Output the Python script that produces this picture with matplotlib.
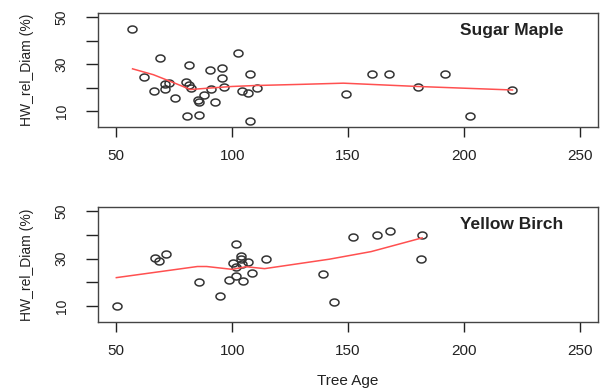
import numpy as np
import matplotlib.pyplot as plt
from matplotlib.path import Path

plt.rcParams['font.family'] = ['Liberation Sans', 'DejaVu Sans']

# Sugar Maple: tree age vs heartwood relative diameter (%)
sm_age = [56.8, 69, 81.3, 62.1, 70.9, 72.6, 71.2, 66.2, 75.4, 80.2, 81.2, 82.3,
          80.4, 85.5, 85.2, 85.6, 87.7, 90.6, 91, 92.6, 95.6, 95.6, 96.4, 102.5,
          107.6, 104.4, 106.8, 110.9, 107.9, 149.1, 160.5, 167.5, 180.4, 191.7,
          202.8, 221]
sm_hw = [44.8, 32.6, 29.7, 24.4, 21.4, 21.9, 19.6, 18.7, 15.6, 22.6, 21.2, 19.9,
         8.0, 8.4, 14.6, 14.0, 16.7, 27.4, 19.6, 14.1, 28.2, 24.2, 20.1, 34.8,
         25.9, 18.5, 17.6, 19.7, 5.9, 17.2, 25.7, 25.9, 20.2, 25.6, 7.8, 19.0]
sm_fit_age = [57, 66, 75, 82, 90, 100, 110, 130, 148, 180, 221]
sm_fit_hw = [28.0, 25.5, 22.0, 19.2, 19.8, 20.5, 20.9, 21.4, 21.9, 20.5, 19.0]

# Yellow Birch
yb_age = [50.3, 66.9, 68.3, 71.5, 85.5, 94.6, 98.5, 101.8, 100.4, 101.8, 103.7,
          103.7, 104.2, 106.8, 108.6, 104.5, 101.8, 114.8, 139.3, 144.1, 152.3,
          162.4, 168.2, 181.9, 181.6]
yb_hw = [10.2, 30.2, 29.2, 31.8, 20.3, 14.1, 21.1, 36.1, 28.3, 22.9, 31.1,
         29.7, 27.6, 28.8, 24.1, 20.5, 26.4, 29.7, 23.6, 11.7, 39.3, 39.8, 41.6,
         40.1, 29.7]
yb_fit_age = [50, 85, 89, 100, 106, 114, 142, 160, 182]
yb_fit_hw = [22.0, 26.7, 26.7, 25.5, 26.6, 25.8, 29.8, 33.0, 38.8]

x_ticks = [50, 100, 150, 200, 250]
y_ticks = [10, 20, 30, 40, 50]
y_labels = ['10', '', '30', '', '50']

# slightly wide open circle, like the stretched original
t = np.linspace(0, 2 * np.pi, 60)
ell = Path(np.column_stack([1.3 * np.cos(t), np.sin(t)]))

fig = plt.figure(figsize=(6, 3.9), dpi=100)

panels = [
    (sm_age, sm_hw, sm_fit_age, sm_fit_hw, "Sugar Maple", [0.163, 0.674, 0.834, 0.293]),
    (yb_age, yb_hw, yb_fit_age, yb_fit_hw, "Yellow Birch", [0.163, 0.174, 0.834, 0.295]),
]

for i, (xa, ya, fx, fy, name, rect) in enumerate(panels):
    ax = fig.add_axes(rect)
    ax.plot(xa, ya, linestyle='none', marker=ell, markersize=6.5,
            markerfacecolor='none', markeredgecolor='#333333', markeredgewidth=1.1)
    ax.plot(fx, fy, color='#ff5050', lw=1.1)
    ax.set_xlim(42, 258)
    ax.set_ylim(3.2, 51.8)
    ax.set_xticks(x_ticks)
    ax.set_yticks(y_ticks)
    ax.set_yticklabels(y_labels, rotation=90, va='center')
    ax.tick_params(axis='x', length=7, width=1, pad=9, labelsize=11, colors='#222222')
    ax.tick_params(axis='y', length=9, width=1, pad=12, labelsize=10, colors='#222222')
    for s in ax.spines.values():
        s.set_color('#444444')
        s.set_linewidth(1)
    ax.set_ylabel("HW_rel_Diam (%)", fontsize=10, color='#222222')
    ax.yaxis.set_label_coords(-0.128, 0.5)
    ax.text(0.724, 0.85, name, transform=ax.transAxes, fontsize=12.5,
            fontweight='bold', color='#222222', ha='left', va='center')
    if i == 1:
        ax.set_xlabel("Tree Age", fontsize=11, color='#222222', labelpad=11)

fig.savefig("out.png", dpi=100)
